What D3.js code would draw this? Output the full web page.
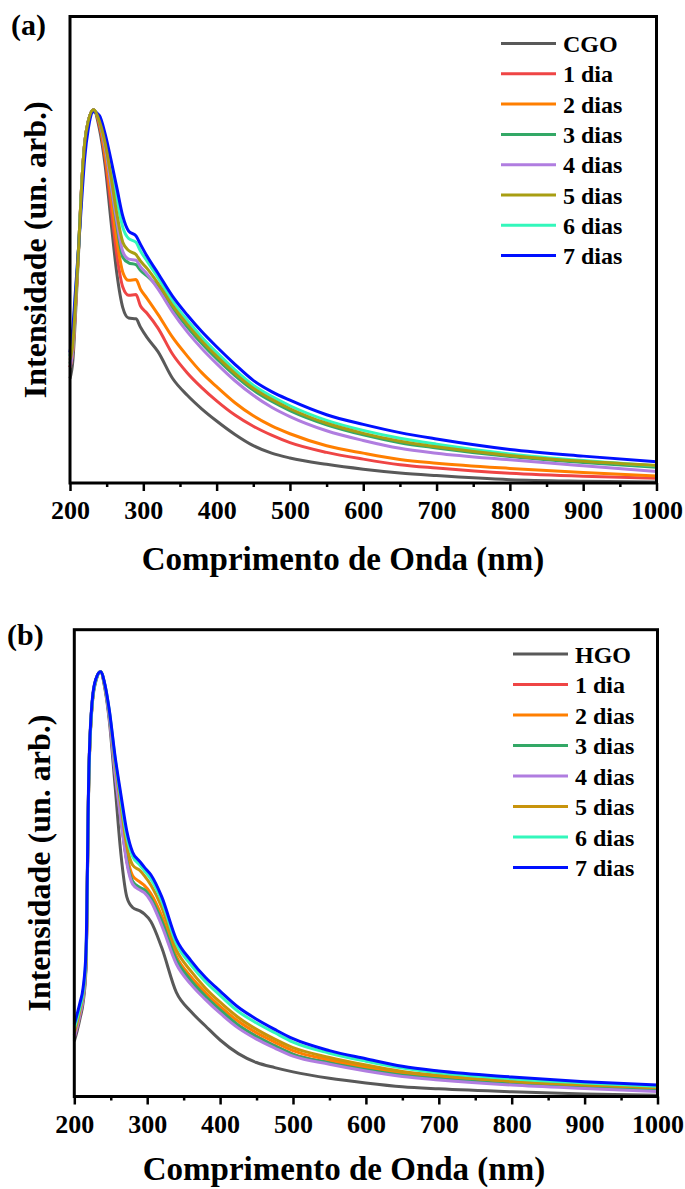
<!DOCTYPE html>
<html>
<head>
<meta charset="utf-8">
<script src="https://cdn.jsdelivr.net/npm/d3@7"></script>
<style>
  html, body { margin: 0; padding: 0; background: #fff; }
  svg { display: block; }
</style>
</head>
<body>
<svg id="chart" width="685" height="1189"></svg>
<script>
// wavelength grids (nm)
const wavelengthsA = [200, 204, 208, 212, 216, 220, 225, 232, 240, 248, 256, 264, 272, 280, 290, 296, 305, 320, 340, 360, 380, 400, 425, 450, 475, 500, 550, 600, 650, 700, 800, 900, 1000];
const wavelengthsB = [200, 204, 208, 212, 216, 220, 225, 230, 236, 242, 248, 256, 264, 272, 280, 290, 296, 305, 320, 340, 360, 380, 400, 425, 450, 475, 500, 550, 600, 650, 700, 800, 900, 1000];
const xTicks = [200, 300, 400, 500, 600, 700, 800, 900, 1000];
const xMinorTicks = [250, 350, 450, 550, 650, 750, 850, 950];

// panel (a) - normalised intensity
const aCGO   = [0.28, 0.33, 0.47, 0.63, 0.80, 0.91, 0.97, 1.0, 0.95, 0.85, 0.70, 0.56, 0.47, 0.442, 0.44, 0.418, 0.39, 0.352, 0.28, 0.235, 0.198, 0.166, 0.13, 0.1, 0.08, 0.067, 0.05, 0.037, 0.027, 0.02, 0.009, 0.005, 0.003];
const aDay1  = [0.31, 0.36, 0.49, 0.64, 0.80, 0.91, 0.97, 1.0, 0.96, 0.87, 0.74, 0.61, 0.525, 0.503, 0.505, 0.475, 0.455, 0.415, 0.345, 0.295, 0.255, 0.22, 0.182, 0.152, 0.128, 0.108, 0.082, 0.064, 0.049, 0.040, 0.026, 0.018, 0.013];
const aDay2  = [0.31, 0.36, 0.49, 0.64, 0.80, 0.91, 0.97, 1.0, 0.965, 0.88, 0.77, 0.65, 0.565, 0.543, 0.545, 0.52, 0.495, 0.452, 0.39, 0.34, 0.295, 0.258, 0.215, 0.18, 0.153, 0.132, 0.10, 0.08, 0.063, 0.053, 0.039, 0.028, 0.019];
const aDay3  = [0.32, 0.37, 0.50, 0.64, 0.80, 0.91, 0.97, 1.0, 0.97, 0.90, 0.80, 0.69, 0.605, 0.59, 0.585, 0.57, 0.555, 0.525, 0.468, 0.418, 0.373, 0.333, 0.288, 0.249, 0.219, 0.194, 0.156, 0.129, 0.108, 0.094, 0.071, 0.055, 0.042];
const aDay4  = [0.31, 0.36, 0.49, 0.64, 0.80, 0.91, 0.97, 1.0, 0.97, 0.90, 0.80, 0.70, 0.62, 0.60, 0.597, 0.58, 0.56, 0.52, 0.458, 0.405, 0.36, 0.32, 0.274, 0.235, 0.203, 0.178, 0.14, 0.114, 0.093, 0.080, 0.062, 0.046, 0.031];
const aDay5  = [0.33, 0.375, 0.50, 0.64, 0.80, 0.91, 0.97, 1.0, 0.97, 0.91, 0.82, 0.72, 0.645, 0.623, 0.612, 0.595, 0.575, 0.535, 0.475, 0.425, 0.38, 0.34, 0.294, 0.254, 0.224, 0.199, 0.16, 0.133, 0.112, 0.097, 0.074, 0.058, 0.047];
const aDay6  = [0.34, 0.40, 0.52, 0.64, 0.79, 0.90, 0.965, 0.998, 0.975, 0.925, 0.85, 0.76, 0.685, 0.655, 0.645, 0.622, 0.595, 0.55, 0.487, 0.436, 0.39, 0.35, 0.303, 0.262, 0.232, 0.207, 0.168, 0.141, 0.12, 0.104, 0.078, 0.06, 0.046];
const aDay7  = [0.35, 0.42, 0.53, 0.64, 0.76, 0.87, 0.95, 0.995, 0.985, 0.935, 0.865, 0.79, 0.715, 0.675, 0.662, 0.64, 0.608, 0.562, 0.50, 0.45, 0.405, 0.365, 0.318, 0.275, 0.245, 0.222, 0.183, 0.157, 0.135, 0.118, 0.09, 0.072, 0.057];

// panel (b)
const bHGO   = [0.13, 0.155, 0.185, 0.22, 0.30, 0.75, 0.93, 0.98, 1.0, 0.96, 0.885, 0.73, 0.57, 0.47, 0.445, 0.437, 0.43, 0.412, 0.35, 0.245, 0.20, 0.166, 0.133, 0.101, 0.08, 0.068, 0.058, 0.043, 0.032, 0.023, 0.018, 0.011, 0.006, 0.003];
const bDay1  = [0.14, 0.165, 0.195, 0.23, 0.31, 0.76, 0.935, 0.983, 1.0, 0.965, 0.895, 0.765, 0.655, 0.555, 0.505, 0.49, 0.485, 0.465, 0.41, 0.32, 0.272, 0.235, 0.203, 0.168, 0.142, 0.12, 0.10, 0.08, 0.064, 0.05, 0.042, 0.03, 0.022, 0.016];
const bDay2  = [0.145, 0.17, 0.20, 0.235, 0.315, 0.76, 0.935, 0.983, 1.0, 0.966, 0.9, 0.775, 0.67, 0.57, 0.52, 0.505, 0.497, 0.478, 0.425, 0.33, 0.282, 0.245, 0.212, 0.177, 0.15, 0.128, 0.108, 0.086, 0.069, 0.055, 0.047, 0.034, 0.025, 0.019];
const bDay3  = [0.145, 0.17, 0.20, 0.233, 0.31, 0.76, 0.935, 0.983, 1.0, 0.965, 0.895, 0.765, 0.655, 0.557, 0.507, 0.492, 0.487, 0.467, 0.413, 0.322, 0.273, 0.236, 0.204, 0.168, 0.141, 0.119, 0.099, 0.079, 0.063, 0.05, 0.042, 0.029, 0.021, 0.014];
const bDay4  = [0.14, 0.165, 0.195, 0.23, 0.31, 0.76, 0.935, 0.983, 1.0, 0.965, 0.893, 0.76, 0.65, 0.55, 0.50, 0.486, 0.48, 0.46, 0.402, 0.312, 0.264, 0.228, 0.196, 0.161, 0.135, 0.114, 0.095, 0.076, 0.06, 0.047, 0.039, 0.027, 0.019, 0.012];
const bDay5  = [0.15, 0.175, 0.205, 0.24, 0.32, 0.76, 0.935, 0.983, 1.0, 0.967, 0.905, 0.785, 0.685, 0.59, 0.545, 0.532, 0.52, 0.498, 0.445, 0.345, 0.295, 0.255, 0.222, 0.186, 0.158, 0.135, 0.115, 0.092, 0.074, 0.059, 0.05, 0.036, 0.027, 0.021];
const bDay6  = [0.16, 0.185, 0.212, 0.245, 0.33, 0.76, 0.935, 0.983, 1.0, 0.969, 0.908, 0.795, 0.70, 0.612, 0.565, 0.545, 0.532, 0.512, 0.46, 0.36, 0.31, 0.27, 0.238, 0.20, 0.173, 0.15, 0.128, 0.102, 0.083, 0.067, 0.056, 0.042, 0.032, 0.024];
const bDay7  = [0.17, 0.195, 0.222, 0.255, 0.34, 0.77, 0.94, 0.985, 1.0, 0.97, 0.91, 0.80, 0.71, 0.625, 0.575, 0.553, 0.54, 0.522, 0.47, 0.37, 0.32, 0.28, 0.248, 0.21, 0.182, 0.158, 0.136, 0.108, 0.089, 0.071, 0.06, 0.046, 0.035, 0.027];

const labelsA = ["CGO", "1 dia", "2 dias", "3 dias", "4 dias", "5 dias", "6 dias", "7 dias"];
const labelsB = ["HGO", "1 dia", "2 dias", "3 dias", "4 dias", "5 dias", "6 dias", "7 dias"];
const colorsA = ["#595959", "#ef4545", "#ff7f00", "#33a866", "#b07de0", "#a89e12", "#33f7bb", "#0010ff"];
const colorsB = ["#595959", "#ef4545", "#ff7f00", "#33a866", "#b07de0", "#c8940c", "#33f7bb", "#0010ff"];

const FONT = "Liberation Serif";
const svg = d3.select("#chart");

function label(sel, size) {
  return sel.style("font-family", FONT).style("font-weight", "bold")
    .style("font-size", size + "px").attr("fill", "#000");
}

function drawPanel(p) {
  const x = d3.scaleLinear().domain([200, 1000]).range([p.left, p.right]);
  const y = d3.scaleLinear().domain([0, p.yMax]).range([p.bottom, p.top]);
  const g = svg.append("g");

  const line = d3.line()
    .x((d, i) => x(p.wl[i]))
    .y(d => y(d))
    .curve(d3.curveMonotoneX);

  // series, drawn in the given order
  p.order.forEach(k => {
    g.append("path")
      .attr("d", line(p.series[k]))
      .attr("fill", "none")
      .attr("stroke", p.colors[k])
      .attr("stroke-width", 3)
      .attr("stroke-linejoin", "round");
  });

  // major ticks + labels
  const axis = g.append("g")
    .attr("transform", "translate(0," + p.bottom + ")")
    .call(d3.axisBottom(x).tickValues(xTicks).tickSize(8).tickPadding(10).tickFormat(d3.format("d")));
  axis.select(".domain").remove();
  axis.selectAll("line").attr("stroke", "#000").attr("stroke-width", 2.5);
  label(axis.selectAll("text"), 26);

  const minor = g.append("g")
    .attr("transform", "translate(0," + p.bottom + ")")
    .call(d3.axisBottom(x).tickValues(xMinorTicks).tickSize(4).tickFormat(""));
  minor.select(".domain").remove();
  minor.selectAll("line").attr("stroke", "#000").attr("stroke-width", 2.5);

  // frame
  g.append("rect")
    .attr("x", p.left).attr("y", p.top)
    .attr("width", p.right - p.left).attr("height", p.bottom - p.top)
    .attr("fill", "none").attr("stroke", "#000").attr("stroke-width", 3);

  // titles
  label(g.append("text"), 33)
    .attr("x", p.xTitleX).attr("y", p.xTitleY)
    .attr("text-anchor", "middle")
    .text("Comprimento de Onda (nm)");
  label(g.append("text"), 32)
    .attr("transform", "translate(" + p.yTitleX + "," + (p.top + p.bottom) / 2 + ") rotate(-90)")
    .attr("text-anchor", "middle")
    .text("Intensidade (un. arb.)");
  label(g.append("text"), 30)
    .attr("x", p.tagX).attr("y", p.tagY)
    .text(p.tag);

  // legend
  const leg = g.append("g");
  p.labels.forEach((lab, i) => {
    const ly = p.legY + i * p.legStep;
    leg.append("line")
      .attr("x1", p.legX).attr("x2", p.legX + 55)
      .attr("y1", ly).attr("y2", ly)
      .attr("stroke", p.colors[i]).attr("stroke-width", 3);
    label(leg.append("text"), 24)
      .attr("x", p.legX + 62).attr("y", ly + 8.5)
      .text(lab);
  });
}

drawPanel({
  wl: wavelengthsA,
  series: [aCGO, aDay1, aDay2, aDay3, aDay4, aDay5, aDay6, aDay7],
  order: [0, 1, 2, 3, 4, 6, 7, 5],
  labels: labelsA, colors: colorsA,
  left: 70, right: 656.5, top: 16.5, bottom: 483, yMax: 1.25,
  xTitleX: 343, xTitleY: 570, yTitleX: 46, tag: "(a)", tagX: 11, tagY: 35,
  legX: 501, legY: 43.5, legStep: 30.3
});

drawPanel({
  wl: wavelengthsB,
  series: [bHGO, bDay1, bDay2, bDay3, bDay4, bDay5, bDay6, bDay7],
  order: [0, 1, 2, 3, 4, 5, 6, 7],
  labels: labelsB, colors: colorsB,
  left: 74.3, right: 657.5, top: 629.7, bottom: 1096.5, yMax: 1.099,
  xTitleX: 344, xTitleY: 1180, yTitleX: 50, tag: "(b)", tagX: 7, tagY: 645,
  legX: 513, legY: 654, legStep: 30.5
});
</script>
</body>
</html>
